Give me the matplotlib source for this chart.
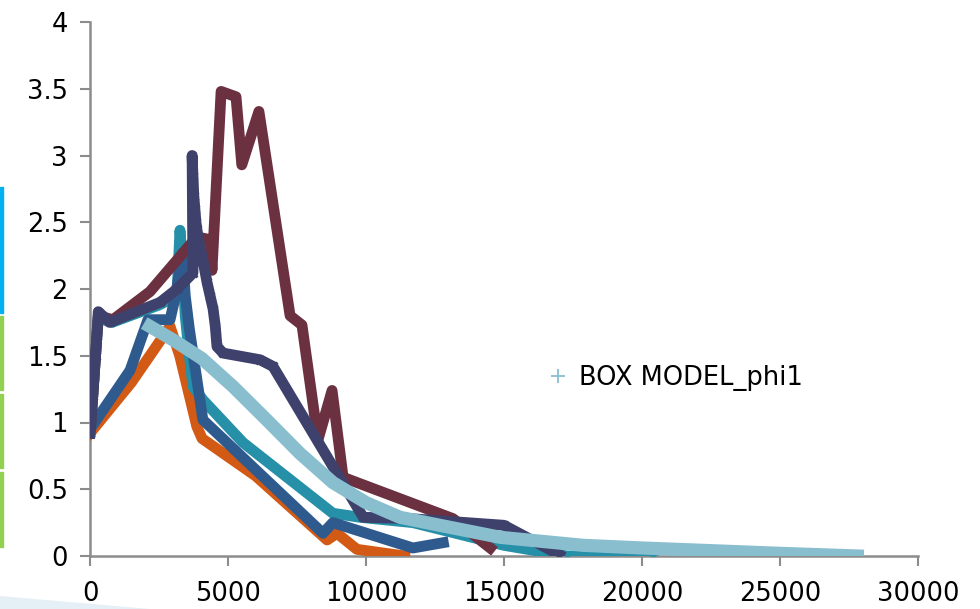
import numpy as np
import matplotlib
matplotlib.use('Agg')
import matplotlib.pyplot as plt
from matplotlib.lines import Line2D
from matplotlib.ticker import FuncFormatter
from matplotlib.patches import Rectangle, Polygon

# 数据
orange_x = [0, 1500, 2900, 3250, 3870, 4060, 6000, 8590, 8950, 9670, 11400]
orange_y = [0.92, 1.30, 1.72, 1.50, 0.97, 0.88, 0.60, 0.12, 0.17, 0.05, 0.0]

teal_x = [0, 50, 100, 150, 200, 250, 300, 800, 2500, 3150, 3260, 3350, 3450, 3600, 3730, 4090,
          5540, 8800, 9780, 11700, 15000, 17280, 20400]
teal_y = [0.92, 1.05, 1.2, 1.35, 1.5, 1.65, 1.78, 1.75, 1.88, 1.95, 2.44, 2.2, 1.8, 1.5, 1.27, 1.17,
          0.85, 0.32, 0.29, 0.25, 0.08, 0.0, 0.0]

blue_x = [0, 1450, 2100, 2900, 3100, 3350, 3450, 3600, 3730, 4090, 8440, 8800, 11700, 12800]
blue_y = [0.95, 1.39, 1.77, 1.77, 1.95, 2.27, 1.95, 1.7, 1.52, 1.02, 0.17, 0.25, 0.06, 0.10]

maroon_x = [0, 50, 100, 150, 200, 250, 300, 830, 2170, 3870, 4350, 4420, 4750, 5290, 5500, 6120,
            7250, 7680, 8260, 8770, 9170, 9420, 13150, 14500]
maroon_y = [0.92, 1.05, 1.2, 1.35, 1.5, 1.65, 1.8, 1.77, 1.98, 2.39, 2.37, 2.14, 3.48, 3.44, 2.93, 3.33,
            1.80, 1.73, 0.87, 1.24, 0.59, 0.57, 0.28, 0.06]

navy_x = [0, 50, 100, 150, 200, 250, 300, 720, 2540, 3150, 3730, 3700, 3730, 3760, 3800, 3840, 3870,
          3950, 4050, 4150, 4240, 4350, 4460, 4540, 4600, 4820, 6160, 6630, 9900, 11600, 15000, 17000]
navy_y = [0.92, 1.05, 1.2, 1.35, 1.5, 1.65, 1.83, 1.75, 1.90, 2.0, 2.12, 3.0, 2.85, 2.7, 2.6, 2.5, 2.45,
          2.35, 2.25, 2.15, 2.05, 1.95, 1.85, 1.72, 1.57, 1.52, 1.47, 1.42, 0.29, 0.28, 0.23, 0.01]

box_x = [2170, 3000, 4050, 5180, 6400, 7600, 8800, 10000, 11230, 12430, 14860, 17860, 20000, 25000, 27800]
box_y = [1.72, 1.62, 1.48, 1.27, 1.02, 0.77, 0.55, 0.40, 0.29, 0.24, 0.14, 0.08, 0.06, 0.02, 0.0]

x_ticks = [0, 5000, 10000, 15000, 20000, 25000, 30000]
y_ticks = [0, 0.5, 1, 1.5, 2, 2.5, 3, 3.5, 4]

fig = plt.figure(figsize=(9.8, 6.09), dpi=100)
ax = fig.add_axes([90 / 980, 53 / 609, 828 / 980, 534 / 609])

lw = 7.8
ax.plot(orange_x, orange_y, color='#D25A14', lw=lw)
ax.plot(teal_x, teal_y, color='#2590A8', lw=lw, marker='d', ms=4)
ax.plot(blue_x, blue_y, color='#2F5A8E', lw=lw)
ax.plot(maroon_x, maroon_y, color='#6B3141', lw=lw, marker='o', ms=4)
ax.plot(navy_x, navy_y, color='#3E416C', lw=lw, marker='x', ms=6, mew=2)
ax.plot(box_x, box_y, color='#89BECF', lw=9.5)

ax.set_xlim(0, 30000)
ax.set_ylim(0, 4)
ax.set_xticks(x_ticks)
ax.set_yticks(y_ticks)
ax.yaxis.set_major_formatter(FuncFormatter(lambda v, p: '%g' % v))

for s in ['top', 'right']:
    ax.spines[s].set_visible(False)
for s in ['left', 'bottom']:
    ax.spines[s].set_color('#8C8C8C')
    ax.spines[s].set_linewidth(1.8)
    ax.spines[s].set_zorder(0)
ax.tick_params(axis='both', color='#8C8C8C', width=1.5, length=7, labelsize=18.5)
ax.tick_params(axis='x', pad=11)
ax.tick_params(axis='y', pad=9)

handle = Line2D([], [], color='#89BECF', marker='+', ls='none', ms=10, mew=1.3)
ax.legend(handles=[handle], labels=['BOX MODEL_phi1'], frameon=False, fontsize=18.5,
          loc='center left', bbox_to_anchor=(525 / 980, 1 - 378 / 609),
          bbox_transform=fig.transFigure, handlelength=0.8, handletextpad=0.4)

# 幻灯片左侧的装饰条
fig.patches.append(Rectangle((0, 1 - 313 / 609), 3 / 980, 126 / 609, color='#00B0F0',
                             transform=fig.transFigure, figure=fig))
for top, bot in [(316, 390), (394, 468), (472, 547)]:
    fig.patches.append(Rectangle((0, 1 - bot / 609), 3 / 980, (bot - top) / 609, color='#92D050',
                                 transform=fig.transFigure, figure=fig))
fig.patches.append(Polygon([(0, 1 - 596 / 609), (150 / 980, 0), (0, 0)], closed=True,
                           facecolor='#E4F0F5', edgecolor='none', transform=fig.transFigure,
                           figure=fig))

fig.savefig('out.png', dpi=100)
